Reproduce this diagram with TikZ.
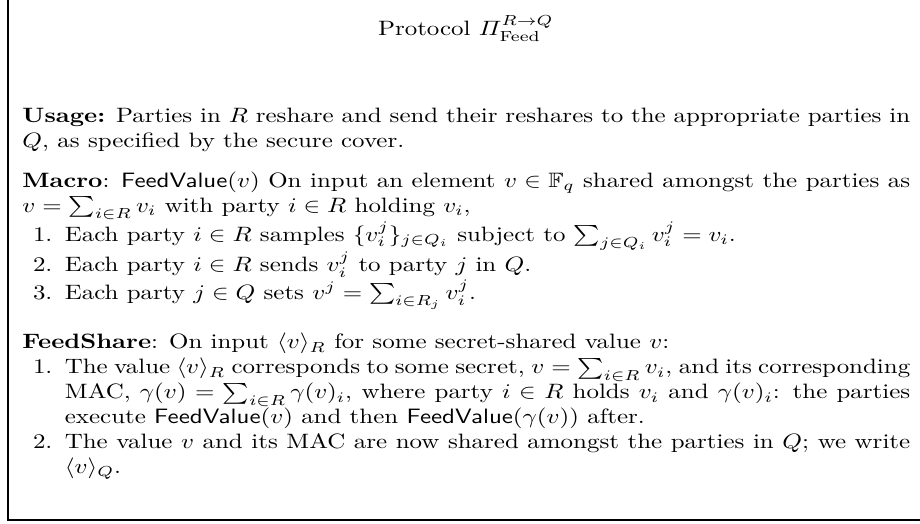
\documentclass[tikz,border=0pt]{standalone}
\usepackage{amsmath,amssymb,amsfonts}
\usepackage{xcolor}
\usepackage{tikz}
\usetikzlibrary{positioning,calc}
\newlength{\stepindent}
\setlength{\stepindent}{17pt}
\newcommand{\stepitem}[1]{\par\noindent\hangindent=\stepindent\hangafter=1\hbox to\stepindent{\hfil#1\hskip5pt}\ignorespaces}
\newcommand{\fv}{\textsf{FeedValue}}
\tikzset{
  frame/.style ={draw=black, line width=.8pt},
  head/.style  ={anchor=base, inner sep=0pt},
  para/.style  ={anchor=base west, text width=356pt, align=justify, inner sep=0pt},
}
\begin{document}
\begin{tikzpicture}[x=1pt,y=1pt]
  \useasboundingbox (-3.85,-1.5) rectangle (438.5,250);
  \coordinate (corner) at (0,0);
  \coordinate (top) at (0,250);
  \coordinate (right) at (438.5,0);
  \draw[frame](top)--(corner)--(right);
  \begin{scope}[xscale=1.199, transform shape]
  \node[head](title) at ([xshift=183.6pt,yshift=233pt]corner){Protocol $\varPi^{R\rightarrow Q}_{\text{Feed}}$};
  \node[para](usage) at ([xshift=5.61pt,yshift=191pt]corner){\textbf{Usage:} Parties in $R$ reshare and send their reshares to the appropriate parties in $Q$, as specified by the secure cover.};
  \node[para](macro) at ([xshift=5.61pt,yshift=160pt]corner){\textbf{Macro}: \fv$(v)$ On input an element $v\in\mathbb{F}_q$ shared amongst the parties as $v=\sum_{i\in R}v_i$ with party $i\in R$ holding $v_i$,
    \stepitem{1.} Each party $i\in R$ samples $\{v_i^j\}_{j\in Q_i}$ subject to $\sum_{j\in Q_i}v_i^j=v_i$.
    \stepitem{2.} Each party $i\in R$ sends $v_i^j$ to party $j$ in $Q$.
    \stepitem{3.} Each party $j\in Q$ sets $v^j=\sum_{i\in R_j}v_i^j$.\par};
  \node[para](fshare) at ([xshift=5.61pt,yshift=82.2pt]corner){\textbf{FeedShare}: On input $\langle v\rangle_R$ for some secret-shared value $v$:
    \stepitem{1.} The value $\langle v\rangle_R$ corresponds to some secret, $v=\sum_{i\in R}v_i$, and its corresponding MAC, $\gamma(v)=\sum_{i\in R}\gamma(v)_i$, where party $i\in R$ holds $v_i$ and $\gamma(v)_i$: the parties execute \fv$(v)$ and then \fv$(\gamma(v))$ after.
    \stepitem{2.} The value $v$ and its MAC are now shared amongst the parties in $Q$; we write $\langle v\rangle_Q$.\par};
  \end{scope}
\end{tikzpicture}
\end{document}
